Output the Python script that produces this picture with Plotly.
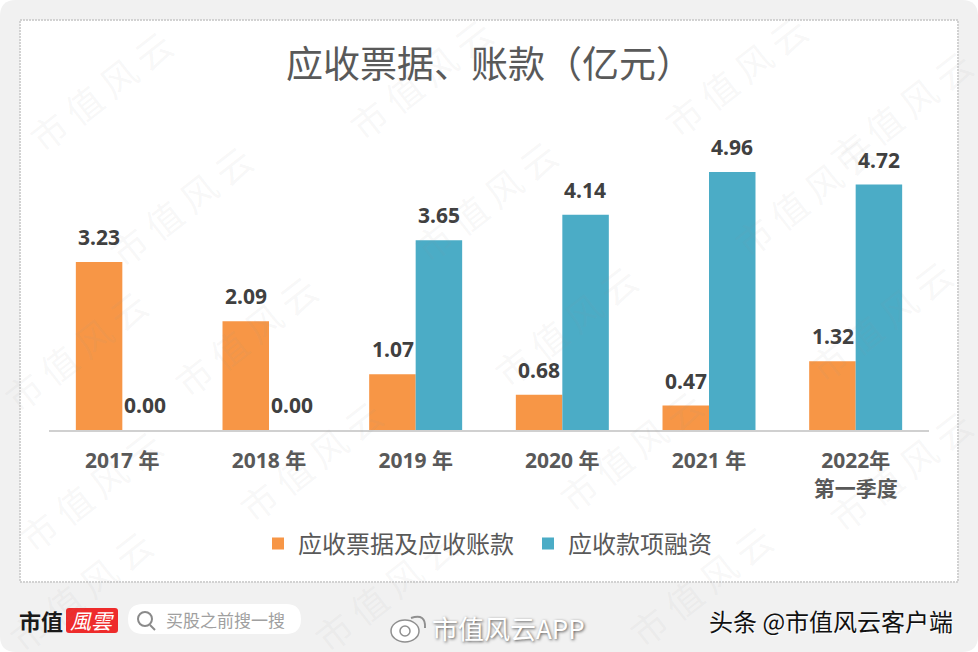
import plotly.graph_objects as go

W, H = 978, 652
L, R, T, B = 49, 929, 118, 430

categories = ["2017 年", "2018 年", "2019 年", "2020 年", "2021 年", "2022年<br>第一季度"]
receivables = [3.23, 2.09, 1.07, 0.68, 0.47, 1.32]
financing = [0.00, 0.00, 3.65, 4.14, 4.96, 4.72]
series_names = ["应收票据及应收账款", "应收款项融资"]
title_text = "应收票据、账款（亿元）"
wm_centers = [(100, 90), (420, 78), (735, 75), (180, 205), (485, 200), (805, 195),
              (245, 335), (565, 325), (880, 320), (75, 350), (310, 460), (630, 450),
              (900, 470), (90, 490), (385, 590), (700, 585), (80, 590), (900, 110)]

FONT = "Noto Sans CJK SC"
NUM = "'Noto Sans', 'Noto Sans CJK SC'"


def px(x):
    return (x - L) / (R - L)


def py(y):
    return (B - y) / (B - T)


def rrect(x0, y0, x1, y1, r):
    a, b, c, d = px(x0), px(x1), py(y0), py(y1)
    rx, ry = r / (R - L), r / (B - T)
    return (f"M{a+rx},{c} L{b-rx},{c} Q{b},{c} {b},{c-ry} L{b},{d+ry} Q{b},{d} {b-rx},{d} "
            f"L{a+rx},{d} Q{a},{d} {a},{d+ry} L{a},{c-ry} Q{a},{c} {a+rx},{c} Z")


fig = go.Figure()
fig.add_bar(name=series_names[0], x=categories, y=receivables, marker=dict(color="#F79646", line_width=0))
fig.add_bar(name=series_names[1], x=categories, y=financing, marker=dict(color="#4BACC6", line_width=0))

paper = dict(xref="paper", yref="paper")
shapes = [
    dict(type="path", path=rrect(0, 0, W, H, 16), fillcolor="#F1F1F1", line_width=0, layer="below", **paper),
    dict(type="rect", x0=px(20), x1=px(958), y0=py(20), y1=py(582),
         fillcolor="#FFFFFF", line=dict(color="#D2D2D2", width=2, dash="2px,1px"), layer="below", **paper),
    dict(type="path", path=rrect(128, 604, 301, 634, 15), fillcolor="#FFFFFF", line_width=0, layer="below", **paper),
    dict(type="path", path=rrect(66, 608, 118, 633, 3), fillcolor="#EE2B2B", line_width=0, layer="below", **paper),
    dict(type="circle", x0=px(138), x1=px(152), y0=py(612), y1=py(626),
         line=dict(color="#8A8A8A", width=2), **paper),
    dict(type="line", x0=px(150), x1=px(155), y0=py(625), y1=py(630),
         line=dict(color="#8A8A8A", width=2), **paper),
    dict(type="circle", x0=px(391), x1=px(419), y0=py(620), y1=py(642),
         fillcolor="#FFFFFF", line=dict(color="#8F8F8F", width=1.5), **paper),
    dict(type="circle", x0=px(400), x1=px(410), y0=py(626), y1=py(636),
         line=dict(color="#8F8F8F", width=1.5), **paper),
    dict(type="path", path=f"M{px(411)},{py(618)} Q{px(426)},{py(613)} {px(425)},{py(628)}",
         line=dict(color="#8F8F8F", width=2), **paper),
]

ann = []


def text(x, y, s, size, color, family=FONT, anchor="center", **kw):
    font_extra = kw.pop("font", {})
    ann.append(dict(x=px(x), y=py(y), xref="paper", yref="paper", text=s, showarrow=False,
                    xanchor=anchor, yanchor="middle",
                    font=dict(size=size, color=color, family=family, **font_extra), **kw))


text(490, 62, title_text, 37, "#595959")

for c, a, b in zip(categories, receivables, financing):
    for v, shift in ((a, -23), (b, 23)):
        ann.append(dict(x=c, y=v, xref="x", yref="y", text=f"<b>{v:.2f}</b>", showarrow=False,
                        xshift=shift, yshift=25, xanchor="center", yanchor="middle",
                        font=dict(size=21, color="#404040", family=NUM)))

for cx, cy in wm_centers:
    text(cx, cy, "市 值 风 云", 36, "rgba(150,150,150,0.08)", textangle=-38)

text(41, 620, "<b>市值</b>", 22, "#1A1A1A")
text(92, 620, "<i>風雲</i>", 21, "#FFFFFF")
text(225, 619, "买股之前搜一搜", 17, "#A0A0A0")
text(508, 627, "市值风云APP", 26, "#FFFFFF", font=dict(shadow="1px 1px 3px #555555"))
text(831, 620, "头条 @市值风云客户端", 24, "#111111", font=dict(shadow="1px 1px 1px #FFFFFF"))

fig.update_layout(
    width=W, height=H, autosize=False,
    margin=dict(l=L, r=W - R, t=T, b=H - B, pad=0),
    paper_bgcolor="#FFFFFF", plot_bgcolor="rgba(0,0,0,0)",
    barmode="group", bargap=0.366, bargroupgap=0,
    shapes=shapes, annotations=ann,
    showlegend=True,
    legend=dict(orientation="h", x=px(258), y=py(544), xanchor="left", yanchor="middle",
                font=dict(size=24, color="#595959", family=FONT), bgcolor="rgba(0,0,0,0)",
                itemwidth=30, entrywidth=225, entrywidthmode="pixels"),
    xaxis=dict(showline=True, linecolor="#D0D0D0", linewidth=2, ticks="", showgrid=False,
               tickfont=dict(size=21, color="#595959", family=NUM), ticklabelstandoff=11, fixedrange=True),
    yaxis=dict(visible=False, range=[0, 6], showgrid=False, fixedrange=True),
    font=dict(family=FONT),
)
fig.update_xaxes(tickmode="array", tickvals=categories,
                 ticktext=[f"<b>{c}</b>" for c in categories])
fig.write_html("out.html", config=dict(displayModeBar=False),
               post_script="document.body.style.margin='0';document.body.style.overflow='hidden';")
